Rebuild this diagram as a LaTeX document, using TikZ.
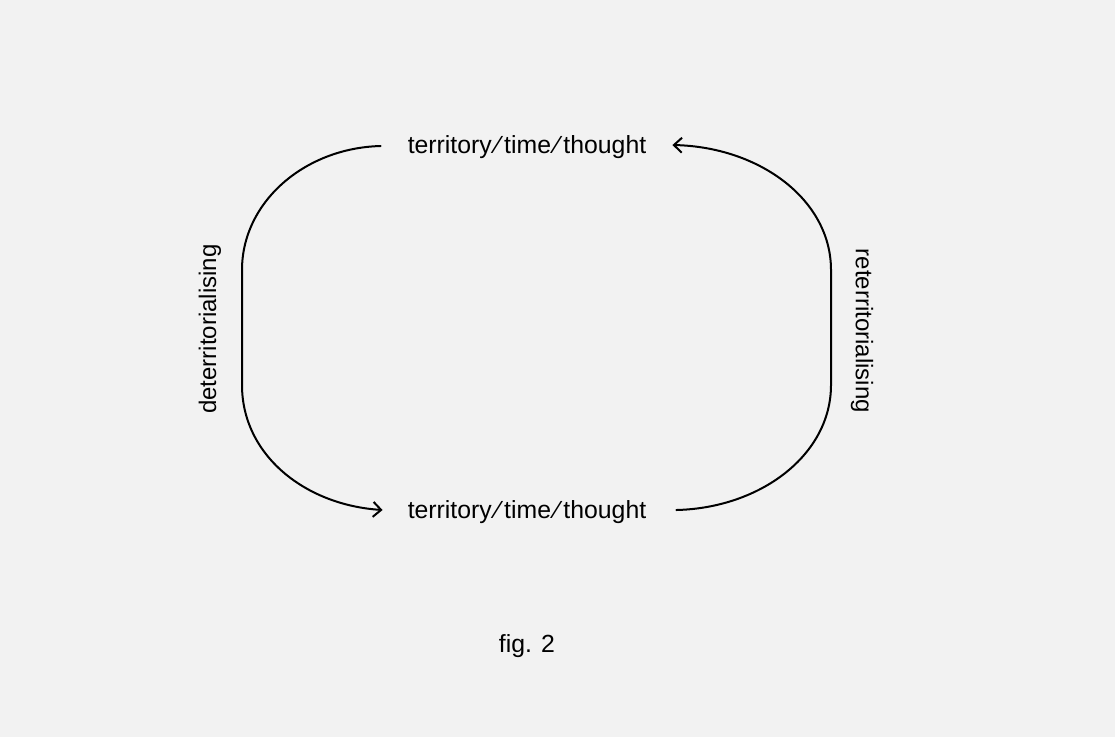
\documentclass[tikz,border=0pt]{standalone}
\usepackage{fontspec}
\setmainfont{Liberation Sans}
\usetikzlibrary{arrows.meta}
\definecolor{bg}{HTML}{F2F2F2}
\tikzset{
  lbl/.style={font=\fontsize{24.8}{28}\selectfont, inner sep=0pt, text=black},
  side/.style={font=\fontsize{24}{28}\selectfont, inner sep=0pt, text=black},
  conn/.style={line width=2pt, draw=black, line cap=round},
  tip/.style={-{Straight Barb[length=8pt,width=15pt,line width=2pt]}}
}
\begin{document}
\begin{tikzpicture}[x=1pt,y=-1pt]
\fill[bg] (0,0) rectangle (1115,737);
\useasboundingbox (0,0) rectangle (1115,737);
\node[lbl] (t) at (527,147) {territory\,⁄\,time\,⁄\,thought};
\node[lbl] (b) at (527,512) {territory\,⁄\,time\,⁄\,thought};
\node[side, rotate=90] (d) at (210,329) {deterritorialising};
\node[side, rotate=-90] (r) at (862,331) {reterritorialising};
\node[lbl] (f) at (527,646) {fig. 2};
\coordinate (tl) at ([xshift=-27pt]t.west |- 0,146);
\coordinate (bl) at ([xshift=-25pt]b.west |- 0,510);
\coordinate (br) at ([xshift=30pt]b.east |- 0,510);
\coordinate (tr) at ([xshift=26pt]t.east |- 0,145);
\draw[conn, tip] (tl) .. controls +(-76,2) and (242,202) .. (242,270)
  -- (242,385) .. controls (242,455) and (305,505) .. (bl);
\draw[conn, tip] (br) .. controls +(84,-2) and (831,455) .. (831,385)
  -- (831,270) .. controls (831,200) and (760,147) .. (tr);
\end{tikzpicture}
\end{document}
